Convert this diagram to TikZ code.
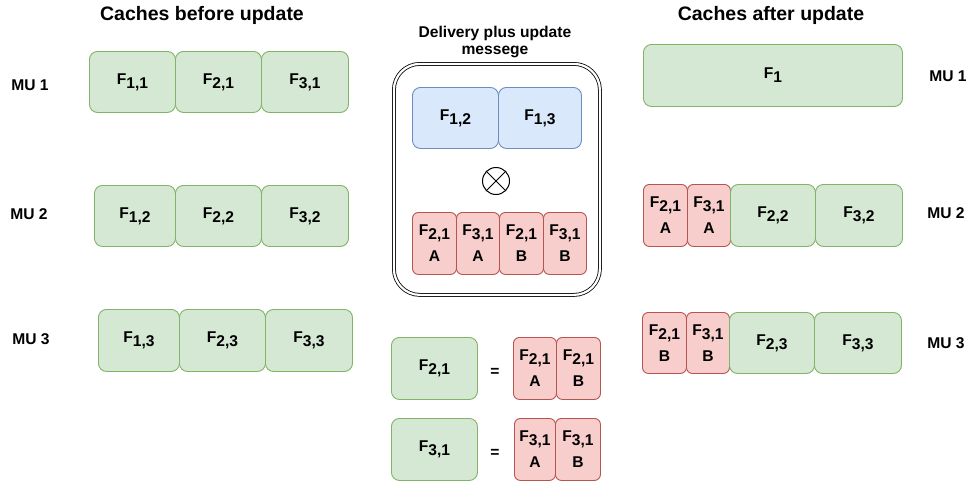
\documentclass[tikz,border=0pt]{standalone}
\usepackage{fontspec}
\setmainfont{Liberation Sans}
\definecolor{gfill}{HTML}{D5E8D4}
\definecolor{gline}{HTML}{82B366}
\definecolor{bfill}{HTML}{DAE8FC}
\definecolor{bline}{HTML}{6C8EBF}
\definecolor{rfill}{HTML}{F8CECC}
\definecolor{rline}{HTML}{B85450}
\newcommand\Fs[1]{F\raisebox{-4pt}{#1}}
% box from its top-left (x1,y1) to bottom-right (x2,y2)
\newcommand\cbox[7]{\node[#2, minimum width={(#5-#3)*1pt}, minimum height={(#6-#4)*1pt}, anchor=north west] (#1) at (#3,#4) {#7};}
\tikzset{
  cell/.style={rounded corners=8pt, line width=0.9pt, inner sep=0pt, align=center,
    font=\fontsize{15.6}{26}\selectfont\bfseries},
  grn/.style={cell, fill=gfill, draw=gline},
  blu/.style={cell, fill=bfill, draw=bline},
  red/.style={cell, rounded corners=6pt, fill=rfill, draw=rline},
  lbl/.style={inner sep=0pt, font=\fontsize{15.6}{18}\selectfont\bfseries},
  ttl/.style={inner sep=0pt, font=\fontsize{19.5}{22}\selectfont\bfseries},
}
\begin{document}
\begin{tikzpicture}[x=1pt, y=-1pt]
\useasboundingbox (0,0) rectangle (972,485);

% titles
\node[ttl] (tbefore) at (202,15) {Caches before update};
\node[ttl] (tafter) at (771,15) {Caches after update};
\node[lbl, align=center, font=\fontsize{15.6}{17}\selectfont\bfseries] (tmsg) at (495,42) {Delivery plus update\\messege};

% caches before update
\node[lbl] (mu1l) at (30,85) {MU 1};
\cbox{a11}{grn}{89}{51}{175}{112}{\Fs{1,1}}
\cbox{a21}{grn}{175}{51}{261}{112}{\Fs{2,1}}
\cbox{a31}{grn}{261}{51}{348}{112}{\Fs{3,1}}

\node[lbl] (mu2l) at (29,214) {MU 2};
\cbox{a12}{grn}{94}{185}{175}{246}{\Fs{1,2}}
\cbox{a22}{grn}{175}{185}{261}{246}{\Fs{2,2}}
\cbox{a32}{grn}{261}{185}{348}{246}{\Fs{3,2}}

\node[lbl] (mu3l) at (31,339) {MU 3};
\cbox{a13}{grn}{98}{309}{179}{371}{\Fs{1,3}}
\cbox{a23}{grn}{179}{309}{265}{371}{\Fs{2,3}}
\cbox{a33}{grn}{265}{309}{352}{371}{\Fs{3,3}}

% delivery plus update message
\node[draw, double, double distance=2.2pt, line width=0.8pt, rounded corners=26pt,
      minimum width=206pt, minimum height=231pt, anchor=north west] (msg) at (393.5,63.5) {};
\cbox{m12}{blu}{412}{87}{498}{148}{\Fs{1,2}}
\cbox{m13}{blu}{498}{87}{581}{148}{\Fs{1,3}}
\node[circle, draw, line width=1pt, minimum size=27pt, inner sep=0pt] (xo) at (496,181) {};
\draw[line width=1pt] (xo.north west) -- (xo.south east);
\draw[line width=1pt] (xo.north east) -- (xo.south west);
\cbox{r1}{red}{412}{212}{456}{274}{\Fs{2,1}\\A}
\cbox{r2}{red}{456}{212}{499}{274}{\Fs{3,1}\\A}
\cbox{r3}{red}{499}{212}{543}{274}{\Fs{2,1}\\B}
\cbox{r4}{red}{543}{212}{586}{274}{\Fs{3,1}\\B}

% subfile splitting
\cbox{s21}{grn}{391}{337}{477}{399}{\Fs{2,1}}
\node[lbl] (eq1) at (495,372) {=};
\cbox{s21a}{red}{513}{337}{556}{399}{\Fs{2,1}\\A}
\cbox{s21b}{red}{556}{337}{600}{399}{\Fs{2,1}\\B}
\cbox{s31}{grn}{391}{418}{477}{480}{\Fs{3,1}}
\node[lbl] (eq2) at (495,453) {=};
\cbox{s31a}{red}{514}{418}{555}{480}{\Fs{3,1}\\A}
\cbox{s31b}{red}{555}{418}{600}{480}{\Fs{3,1}\\B}

% caches after update
\cbox{b1}{grn}{643}{44}{902}{106}{\Fs{1}}
\node[lbl] (mu1r) at (948,76) {MU 1};

\cbox{b2a}{red}{643}{184}{687}{246}{\Fs{2,1}\\A}
\cbox{b2b}{red}{687}{184}{730}{246}{\Fs{3,1}\\A}
\cbox{b22}{grn}{730}{184}{815}{246}{\Fs{2,2}}
\cbox{b32}{grn}{815}{184}{902}{246}{\Fs{3,2}}
\node[lbl] (mu2r) at (946,213) {MU 2};

\cbox{b3a}{red}{642}{312}{686}{373}{\Fs{2,1}\\B}
\cbox{b3b}{red}{686}{312}{729}{373}{\Fs{3,1}\\B}
\cbox{b23}{grn}{729}{312}{814}{373}{\Fs{2,3}}
\cbox{b33}{grn}{814}{312}{901}{373}{\Fs{3,3}}
\node[lbl] (mu3r) at (946,343) {MU 3};
\end{tikzpicture}
\end{document}
